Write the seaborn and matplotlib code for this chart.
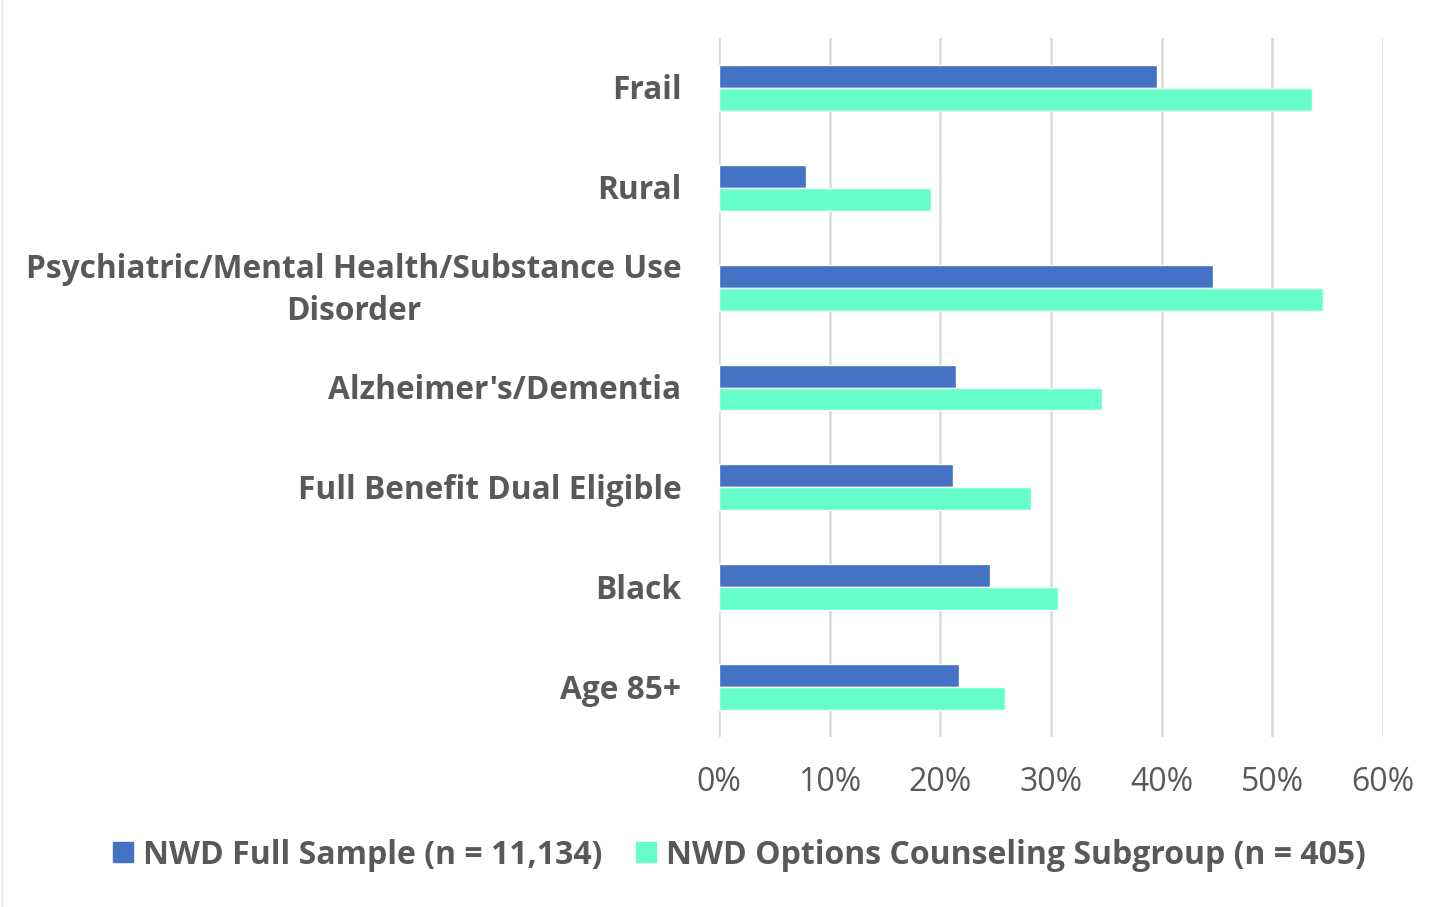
import matplotlib
matplotlib.use("Agg")
import matplotlib.pyplot as plt
import matplotlib.transforms as mtransforms
import seaborn as sns
import pandas as pd
from matplotlib.lines import Line2D

categories = ["Frail", "Rural", "Psychiatric/Mental Health/Substance Use\nDisorder",
              "Alzheimer's/Dementia", "Full Benefit Dual Eligible", "Black", "Age 85+"]
full_sample = [0.396, 0.079, 0.446, 0.214, 0.211, 0.245, 0.217]
options_counseling = [0.536, 0.192, 0.546, 0.346, 0.282, 0.306, 0.258]
series_names = ["NWD Full Sample (n = 11,134)", "NWD Options Counseling Subgroup (n = 405)"]
xticks = [0, 0.1, 0.2, 0.3, 0.4, 0.5, 0.6]
xtick_labels = ["0%", "10%", "20%", "30%", "40%", "50%", "60%"]

df = pd.DataFrame({
    "category": categories * 2,
    "value": full_sample + options_counseling,
    "series": [series_names[0]] * len(categories) + [series_names[1]] * len(categories),
})

sns.set_theme(style="white")
plt.rcParams['font.family'] = ['Open Sans', 'DejaVu Sans']
text_color = "#595959"

fig = plt.figure(figsize=(14.56, 9.07), dpi=100)
ax = fig.add_axes([719/1456, 1-737/907, (1383-719)/1456, (737-38)/907])

sns.barplot(data=df, x="value", y="category", hue="series", order=categories,
            hue_order=series_names, palette=["#4472C4", "#66FFCC"], orient="h",
            width=0.46, dodge=True, ax=ax, legend=False, saturation=1)

ax.set_xlim(0, 0.6)
ax.set_ylim(6.5, -0.5)
ax.set_xticks(xticks)
ax.set_xticklabels(xtick_labels, fontsize=23, color=text_color)
ax.set_yticks(range(len(categories)))
ax.set_yticklabels(categories, fontsize=22.8, fontweight="bold", color=text_color,
                   multialignment="center", linespacing=1.36)
ax.tick_params(axis="y", length=0, pad=27)
ax.tick_params(axis="x", length=0, pad=21)
ax.set_xlabel("")
ax.set_ylabel("")
for s in ax.spines.values():
    s.set_visible(False)
ax.grid(axis="x", color="#d9d9d9", linewidth=1.8)
ax.set_axisbelow(True)

# small vertical nudges of category labels to match reference placement
for lab in ax.get_yticklabels():
    dy = 1.0 if "\n" not in lab.get_text() else 5.5
    lab.set_transform(lab.get_transform() +
                      mtransforms.ScaledTranslation(0, dy / 100, fig.dpi_scale_trans))

handles = [Line2D([0], [0], marker="s", linestyle="", markersize=14.4,
                  markerfacecolor=c, markeredgecolor=c) for c in ["#4472C4", "#66FFCC"]]
leg = fig.legend(handles, series_names, loc="center", bbox_to_anchor=(738/1456, 1-855/907),
                 ncol=2, frameon=False, prop={"size": 23, "weight": "bold"},
                 handletextpad=0.22, columnspacing=0.95, handlelength=0.8)
for t in leg.get_texts():
    t.set_color(text_color)

fig.add_artist(Line2D([1.5/1456, 1.5/1456], [0, 1], color="#eeeeee", linewidth=2,
                      transform=fig.transFigure))

fig.savefig("out.png", dpi=100)
